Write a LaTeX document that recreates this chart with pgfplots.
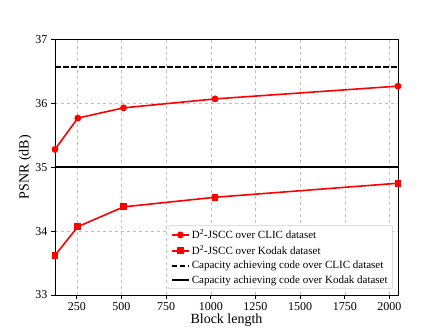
\documentclass[border=0pt]{standalone}
\usepackage{fontspec}
\setmainfont{Liberation Serif}
\usepackage{pgfplots}
\pgfplotsset{compat=1.18}
\tikzset{longdash/.style={dash pattern=on 5.5pt off 2.5pt}}
\begin{document}
\begin{tikzpicture}
\begin{axis}[
    scale only axis,
    width=343pt, height=255.5pt,
    xmin=128, xmax=2048,
    ymin=33, ymax=37,
    xtick={250,500,...,2000},
    ytick={33,34,35,36,37},
    xtick pos=bottom, ytick pos=left,
    tick align=outside,
    major tick length=4pt,
    tick style={black, line width=0.8pt},
    axis line style={line width=0.8pt},
    grid=major,
    grid style={dashed, gray!50, line width=0.5pt},
    /pgf/number format/assume math mode=true,
    /pgf/number format/1000 sep={},
    ticklabel style={font=\fontsize{12}{14}\selectfont},
    xlabel={Block length},
    ylabel={PSNR (dB)},
    label style={font=\fontsize{14}{16}\selectfont},
    xlabel style={yshift=4pt},
    ylabel style={yshift=-3pt},
    legend cell align=left,
    legend style={at={(0.985,0.024)}, anchor=south east, font=\fontsize{11}{13}\selectfont,
        draw=gray!40, rounded corners=2pt, row sep=1.2pt, inner xsep=3pt},
]
\addplot[red, line width=1.6pt, mark=*, mark size=2.6pt] coordinates {
    (128,35.28) (256,35.77) (512,35.93) (1024,36.07) (2048,36.27)
};
\addlegendentry{D\textsuperscript{2}-JSCC over CLIC dataset}
\addplot[red, line width=1.6pt, mark=square*, mark size=2.6pt] coordinates {
    (128,33.62) (256,34.07) (512,34.38) (1024,34.53) (2048,34.75)
};
\addlegendentry{D\textsuperscript{2}-JSCC over Kodak dataset}
\addplot[black, longdash, line width=1.6pt] coordinates {(128,36.57) (2048,36.57)};
\addlegendentry{Capacity achieving code over CLIC dataset}
\addplot[black, line width=1.8pt] coordinates {(128,35.0) (2048,35.0)};
\addlegendentry{Capacity achieving code over Kodak dataset}
\end{axis}
\pgfresetboundingbox
\path ([shift={(-55pt,-37pt)}]current axis.south west) rectangle ([shift={(45pt,39.5pt)}]current axis.north east);
\end{tikzpicture}
\end{document}
